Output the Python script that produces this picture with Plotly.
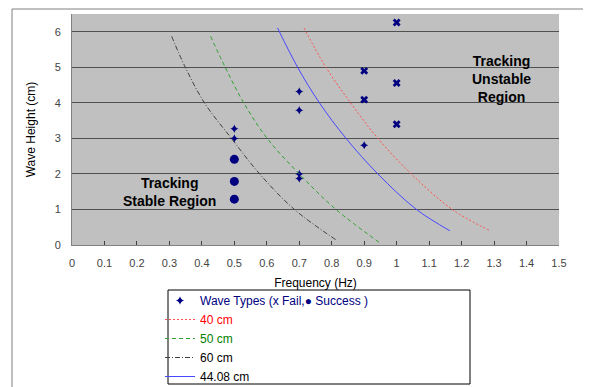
import plotly.graph_objects as go

# ---- data ----
star_f = [0.5, 0.5, 0.7, 0.7, 0.7, 0.7, 0.9]
star_h = [3.27, 3.0, 4.32, 3.79, 2.0, 1.87, 2.81]
success_f = [0.5, 0.5, 0.5]
success_h = [2.41, 1.79, 1.29]
fail_f = [1.0, 0.9, 1.0, 0.9, 1.0]
fail_h = [6.26, 4.90, 4.56, 4.09, 3.40]

c40_f = [0.715, 0.782, 0.858, 0.942, 1.045, 1.171, 1.288]
c40_h = [6.10, 5.0, 4.0, 3.0, 2.0, 1.0, 0.40]
c50_f = [0.427, 0.472, 0.529, 0.601, 0.700, 0.813, 0.947]
c50_h = [5.87, 5.0, 4.0, 3.0, 2.0, 1.0, 0.07]
c60_f = [0.307, 0.349, 0.408, 0.491, 0.578, 0.685, 0.814]
c60_h = [5.87, 5.0, 4.0, 3.0, 2.0, 1.0, 0.14]
c44_f = [0.633, 0.695, 0.762, 0.844, 0.942, 1.061, 1.164]
c44_h = [6.11, 5.0, 4.0, 3.0, 2.0, 1.0, 0.40]

x_ticks = [0, 0.1, 0.2, 0.3, 0.4, 0.5, 0.6, 0.7, 0.8, 0.9, 1, 1.1, 1.2, 1.3, 1.4, 1.5]
x_tick_labels = ["0", "0.1", "0.2", "0.3", "0.4", "0.5", "0.6", "0.7", "0.8", "0.9",
                 "1", "1.1", "1.2", "1.3", "1.4", "1.5"]
y_ticks = [0, 1, 2, 3, 4, 5, 6]

NAVY = "#000080"
FONT = "Liberation Sans, Arial, sans-serif"

# page has an 8px body margin: figure is drawn 8px smaller, coordinates below are page pixels
OFF = 8
PL, PR, PT, PB = 72, 559, 14, 245  # plot area on the page


def px(x):
    return (x - PL) / (PR - PL)


def py(y):
    return (PB - y) / (PB - PT)


fig = go.Figure()

fig.add_trace(go.Scatter(
    x=star_f, y=star_h, mode="markers",
    marker=dict(symbol="star-diamond", size=6, color=NAVY),
    name="<span style='color:#000080'>Wave Types (x Fail,● Success )</span>"))
fig.add_trace(go.Scatter(
    x=success_f, y=success_h, mode="markers",
    marker=dict(symbol="circle", size=9, color=NAVY), showlegend=False))
fig.add_trace(go.Scatter(
    x=fail_f, y=fail_h, mode="markers",
    marker=dict(symbol="x", size=7, color=NAVY), showlegend=False))

fig.add_trace(go.Scatter(
    x=c40_f, y=c40_h, mode="lines", line=dict(color="#FF5050", width=1, dash="2px,2px", shape="spline"),
    name="<span style='color:#FF0000'>40 cm</span>"))
fig.add_trace(go.Scatter(
    x=c50_f, y=c50_h, mode="lines", line=dict(color="#30A030", width=1, dash="4px,3px", shape="spline"),
    name="<span style='color:#008000'>50 cm</span>"))
fig.add_trace(go.Scatter(
    x=c60_f, y=c60_h, mode="lines", line=dict(color="#404040", width=1, dash="5px,2px,1px,2px", shape="spline"),
    name="<span style='color:#000000'>60 cm</span>"))
fig.add_trace(go.Scatter(
    x=c44_f, y=c44_h, mode="lines", line=dict(color="#4848FF", width=1, shape="spline"),
    name="<span style='color:#000000'>44.08 cm</span>"))

W, H = 591 - OFF, 387 - OFF
fig.update_layout(
    width=W, height=H,
    margin=dict(l=PL - OFF, r=W - (PR - OFF), t=PT - OFF, b=H - (PB - OFF), autoexpand=False),
    paper_bgcolor="white", plot_bgcolor="#C0C0C0",
    font=dict(family=FONT, size=11, color="#000000"),
    xaxis=dict(range=[0, 1.5], tickvals=x_ticks, ticktext=x_tick_labels,
               showgrid=False, zeroline=False, showline=True, linecolor="#808080", linewidth=1,
               ticks="inside", ticklen=4, tickcolor="#404040", ticklabelstandoff=8,
               tickfont=dict(size=11, color="#444444", family=FONT),
               title=dict(text="Frequency (Hz)", font=dict(size=12, color="#000000"), standoff=10)),
    yaxis=dict(range=[0, 6.5], tickvals=y_ticks,
               showgrid=True, gridcolor="#505050", gridwidth=1, zeroline=False,
               showline=True, linecolor="#808080", linewidth=1, ticklabelstandoff=8,
               tickfont=dict(size=11, color="#444444", family=FONT),
               title=dict(text="Wave Height (cm)", font=dict(size=12, color="#000000"), standoff=16)),
    legend=dict(x=px(160), y=py(286), xanchor="left", yanchor="top",
                bgcolor="rgba(0,0,0,0)", borderwidth=0,
                font=dict(size=12, family=FONT), tracegroupgap=0),
    showlegend=True,
)

# legend frame
fig.add_shape(type="rect", xref="paper", yref="paper",
              x0=px(168), x1=px(470), y0=py(384), y1=py(290),
              line=dict(color="#000000", width=1))
# chart frame (top & left)
fig.add_shape(type="line", xref="paper", yref="paper",
              x0=px(12), x1=px(590), y0=py(9), y1=py(9),
              line=dict(color="#808080", width=1))
fig.add_shape(type="line", xref="paper", yref="paper",
              x0=px(12), x1=px(12), y0=py(9), y1=py(395),
              line=dict(color="#808080", width=1))

fig.add_annotation(x=0.3, y=1.48, xref="x", yref="y", text="<b>Tracking<br>Stable Region</b>",
                   showarrow=False, font=dict(size=14, color="#000000", family=FONT), align="center")
fig.add_annotation(x=1.322, y=4.68, xref="x", yref="y", text="<b>Tracking<br>Unstable<br>Region</b>",
                   showarrow=False, font=dict(size=14, color="#000000", family=FONT), align="center")

fig.write_html("out.html")
